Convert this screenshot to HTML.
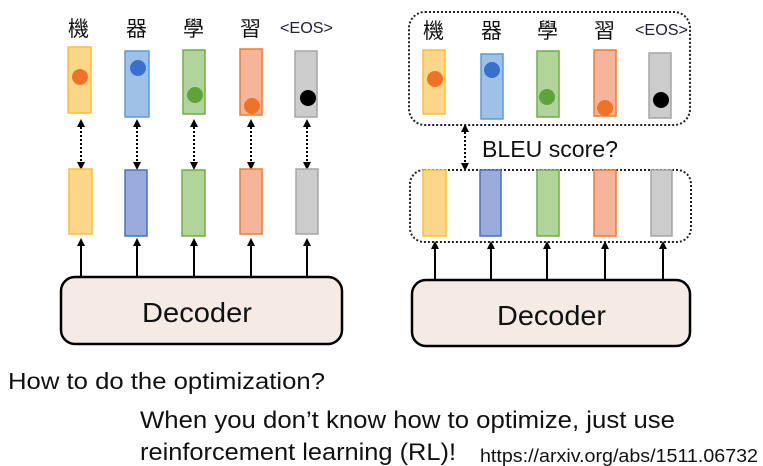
<!DOCTYPE html>
<html><head><meta charset="utf-8"><style>
html,body{margin:0;padding:0;background:#fff;}
svg{display:block;}
text{font-family:"Liberation Sans","Noto Sans CJK TC",sans-serif;fill:#111;}
</style></head><body>
<svg width="763" height="466" viewBox="0 0 763 466" xmlns="http://www.w3.org/2000/svg">
<defs>
<marker id="ah" markerWidth="8" markerHeight="8" refX="4" refY="4" orient="auto-start-reverse" markerUnits="userSpaceOnUse">
<path d="M0,0 L8,4 L0,8 z" fill="#000"/></marker>
</defs>
<g font-size="21">
<text x="68" y="36" style="font-family:'Noto Sans CJK TC',sans-serif">機</text>
<text x="126" y="36" style="font-family:'Noto Sans CJK TC',sans-serif">器</text>
<text x="183" y="36" style="font-family:'Noto Sans CJK TC',sans-serif">學</text>
<text x="240" y="36" style="font-family:'Noto Sans CJK TC',sans-serif">習</text>
<text x="423" y="38" style="font-family:'Noto Sans CJK TC',sans-serif">機</text>
<text x="481" y="38" style="font-family:'Noto Sans CJK TC',sans-serif">器</text>
<text x="537" y="38" style="font-family:'Noto Sans CJK TC',sans-serif">學</text>
<text x="594" y="38" style="font-family:'Noto Sans CJK TC',sans-serif">習</text>
</g>
<text x="280" y="33" font-size="16" textLength="53" lengthAdjust="spacingAndGlyphs" style="fill:#223">&lt;EOS&gt;</text>
<text x="635" y="35" font-size="16" textLength="53" lengthAdjust="spacingAndGlyphs" style="fill:#223">&lt;EOS&gt;</text>

<rect x="68" y="47" width="23" height="66" fill="#fdd789" stroke="#fbc02d" stroke-width="1.5"/>
<rect x="125" y="51" width="24" height="66" fill="#9fc1e8" stroke="#5b9bd5" stroke-width="1.5"/>
<rect x="183" y="50" width="22" height="64" fill="#b0d49a" stroke="#70ad47" stroke-width="1.5"/>
<rect x="240" y="49" width="22" height="66" fill="#f6b59a" stroke="#ed7d31" stroke-width="1.5"/>
<rect x="295" y="51" width="22" height="66" fill="#cccccc" stroke="#a5a5a5" stroke-width="1.5"/>
<circle cx="80" cy="77" r="8" fill="#ed7427"/>
<circle cx="138" cy="68" r="8" fill="#3b6fce"/>
<circle cx="195" cy="95" r="8" fill="#5fa33a"/>
<circle cx="252" cy="106" r="8" fill="#ed7427"/>
<circle cx="308" cy="98" r="8" fill="#000"/>
<g stroke="#000" stroke-width="2" stroke-dasharray="2,2" marker-start="url(#ah)" marker-end="url(#ah)">
<line x1="81" y1="123" x2="81" y2="166"/>
<line x1="137" y1="123" x2="137" y2="166"/>
<line x1="194" y1="123" x2="194" y2="166"/>
<line x1="251" y1="123" x2="251" y2="166"/>
<line x1="307" y1="123" x2="307" y2="166"/>
</g>
<rect x="69" y="169" width="23" height="65" fill="#fdd789" stroke="#fbc02d" stroke-width="1.5"/>
<rect x="125" y="170" width="22" height="66" fill="#9aabdc" stroke="#4472c4" stroke-width="1.5"/>
<rect x="182" y="170" width="23" height="66" fill="#b0d49a" stroke="#70ad47" stroke-width="1.5"/>
<rect x="240" y="169" width="22" height="65" fill="#f6b59a" stroke="#ed7d31" stroke-width="1.5"/>
<rect x="296" y="169" width="22" height="65" fill="#cccccc" stroke="#a5a5a5" stroke-width="1.5"/>
<g stroke="#000" stroke-width="2" marker-end="url(#ah)">
<line x1="81" y1="278" x2="81" y2="242"/>
<line x1="137" y1="278" x2="137" y2="242"/>
<line x1="194" y1="278" x2="194" y2="242"/>
<line x1="251" y1="278" x2="251" y2="242"/>
<line x1="307" y1="278" x2="307" y2="242"/>
</g>
<rect x="61" y="277" width="281" height="67" rx="14" fill="#f5ebe4" stroke="#000" stroke-width="2.5"/>
<text x="142" y="322" font-size="28" textLength="110" lengthAdjust="spacingAndGlyphs">Decoder</text>

<rect x="409" y="12" width="281" height="113" rx="16" fill="none" stroke="#222" stroke-width="2" stroke-dasharray="2,2"/>
<rect x="423" y="50" width="22" height="64" fill="#fdd789" stroke="#fbc02d" stroke-width="1.5"/>
<rect x="481" y="54" width="22" height="65" fill="#9fc1e8" stroke="#5b9bd5" stroke-width="1.5"/>
<rect x="537" y="51" width="22" height="66" fill="#b0d49a" stroke="#70ad47" stroke-width="1.5"/>
<rect x="594" y="50" width="22" height="66" fill="#f6b59a" stroke="#ed7d31" stroke-width="1.5"/>
<rect x="649" y="53" width="22" height="65" fill="#cccccc" stroke="#a5a5a5" stroke-width="1.5"/>
<circle cx="435" cy="79" r="8" fill="#ed7427"/>
<circle cx="492" cy="70" r="8" fill="#3b6fce"/>
<circle cx="547" cy="97" r="8" fill="#5fa33a"/>
<circle cx="605" cy="108" r="8" fill="#ed7427"/>
<circle cx="661" cy="100" r="8" fill="#000"/>
<line x1="465" y1="128" x2="465" y2="167" stroke="#000" stroke-width="2" stroke-dasharray="2,2" marker-start="url(#ah)" marker-end="url(#ah)"/>
<text x="482" y="157" font-size="23" textLength="136" lengthAdjust="spacingAndGlyphs">BLEU score?</text>
<rect x="410" y="170" width="281" height="72" rx="14" fill="none" stroke="#222" stroke-width="2" stroke-dasharray="2,2"/>
<rect x="423" y="170" width="23" height="66" fill="#fdd789" stroke="#fbc02d" stroke-width="1.5"/>
<rect x="480" y="170" width="21" height="66" fill="#9aabdc" stroke="#4472c4" stroke-width="1.5"/>
<rect x="537" y="170" width="22" height="66" fill="#b0d49a" stroke="#70ad47" stroke-width="1.5"/>
<rect x="594" y="170" width="22" height="66" fill="#f6b59a" stroke="#ed7d31" stroke-width="1.5"/>
<rect x="651" y="170" width="21" height="66" fill="#cccccc" stroke="#a5a5a5" stroke-width="1.5"/>
<g stroke="#000" stroke-width="2" marker-end="url(#ah)">
<line x1="435" y1="281" x2="435" y2="245"/>
<line x1="491" y1="281" x2="491" y2="245"/>
<line x1="547" y1="281" x2="547" y2="245"/>
<line x1="605" y1="281" x2="605" y2="245"/>
<line x1="663" y1="281" x2="663" y2="245"/>
</g>
<rect x="412" y="280" width="278" height="66" rx="14" fill="#f5ebe4" stroke="#000" stroke-width="2.5"/>
<text x="497" y="325" font-size="28" textLength="109" lengthAdjust="spacingAndGlyphs">Decoder</text>

<text x="8" y="389" font-size="23" textLength="317" lengthAdjust="spacingAndGlyphs">How to do the optimization?</text>
<text x="140" y="428" font-size="24" textLength="535" lengthAdjust="spacingAndGlyphs">When you don’t know how to optimize, just use</text>
<text x="140" y="460" font-size="24" textLength="316" lengthAdjust="spacingAndGlyphs">reinforcement learning (RL)!</text>
<text x="480" y="462" font-size="18" textLength="278" lengthAdjust="spacingAndGlyphs">https://arxiv.org/abs/1511.06732</text>
</svg>
</body></html>
